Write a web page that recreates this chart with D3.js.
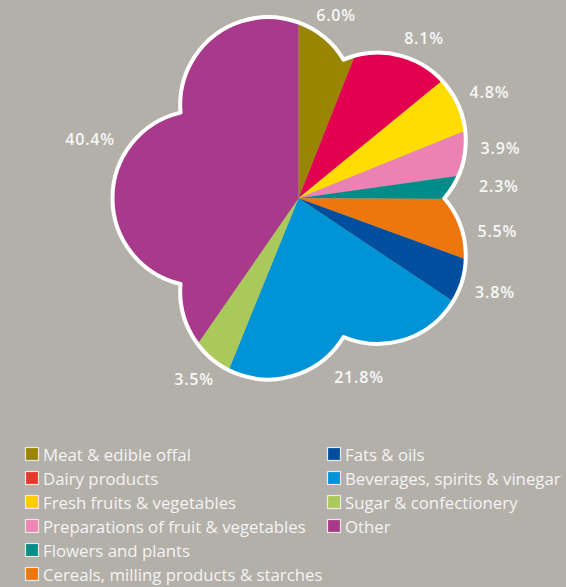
<!DOCTYPE html>
<html>
<head>
	<meta charset="UTF-8">
	<title>Food exports pie</title>
	<script src="https://d3js.org/d3.v7.min.js"></script>
	<style>
		body { margin: 0; background: #b3b0aa; }
		svg { display: block; }
	</style>
</head>
<body>
	<script>
		// Categories, in slice order (clockwise from 12 o'clock)
		var categories = ["Meat & edible offal", "Dairy products", "Fresh fruits & vegetables",
			"Preparations of fruit & vegetables", "Flowers and plants", "Cereals, milling products & starches",
			"Fats & oils", "Beverages, spirits & vinegar", "Sugar & confectionery", "Other"];

		// Share of total, percent
		var shares = [6.0, 8.1, 4.8, 3.9, 2.3, 5.5, 3.8, 21.8, 3.5, 40.4];

		var sliceColors = ["#998500", "#e2004f", "#ffdd00", "#ec82b4", "#008c88",
			"#ee770d", "#004f9e", "#0093d5", "#a9c95a", "#a8398b"];
		var legendColors = ["#998500", "#e53a2b", "#ffcc00", "#ee86b6", "#008c88",
			"#ee770d", "#004f9e", "#0093d5", "#a9c95a", "#a8398b"];

		var width = 566, height = 587;
		var cx = 298.5, cy = 198.3;

		// flower outline: 5 lobes, each an arc of a circle set out from the centre
		var lobes = 5, lobeDist = 98, lobeR = 88, firstLobe = 54; // degrees clockwise from up
		var step = 360 / lobes;
		var rad = Math.PI / 180;

		// distance from centre to the outline at angle phi (degrees, clockwise from up)
		function flowerR(phi) {
			var a = ((phi - firstLobe) % step + step) % step;
			if (a > step / 2) a -= step;
			a *= rad;
			return lobeDist * Math.cos(a) + Math.sqrt(lobeR * lobeR - Math.pow(lobeDist * Math.sin(a), 2));
		}

		// half the arc each lobe spans, seen from its own centre
		var notch = flowerR(firstLobe + step / 2);
		var along = notch * Math.cos(step / 2 * rad) - lobeDist;
		var across = notch * Math.sin(step / 2 * rad);
		var halfSpan = Math.atan2(across, along);

		var flower = d3.path();
		for (var i = 0; i < lobes; i++) {
			var beta = (firstLobe + i * step - 90) * rad;
			var lx = cx + lobeDist * Math.cos(beta), ly = cy + lobeDist * Math.sin(beta);
			flower.arc(lx, ly, lobeR, beta - halfSpan, beta + halfSpan, false);
		}
		flower.closePath();

		var svg = d3.select("body")
			.append("svg")
			.attr("width", width)
			.attr("height", height);

		svg.append("rect")
			.attr("width", width)
			.attr("height", height)
			.attr("fill", "#b3b0aa");

		svg.append("clipPath")
			.attr("id", "flowerClip")
			.append("path")
			.attr("d", flower.toString());

		var pie = d3.pie().sort(null).value(function(d) { return d; });
		var arcs = pie(shares);
		var arc = d3.arc().innerRadius(0).outerRadius(230);

		var g = svg.append("g")
			.attr("clip-path", "url(#flowerClip)");

		g.append("g")
			.attr("transform", "translate(" + cx + "," + cy + ")")
			.selectAll("path")
			.data(arcs)
			.enter()
			.append("path")
			.attr("d", arc)
			.attr("fill", function(d, i) { return sliceColors[i]; });

		// white rim
		svg.append("path")
			.attr("d", flower.toString())
			.attr("fill", "none")
			.attr("stroke", "#ffffff")
			.attr("stroke-width", 4)
			.attr("stroke-linejoin", "round");

		// percentage labels, following the outline
		var labels = svg.append("g")
			.selectAll("text")
			.data(arcs)
			.enter()
			.append("text")
			.attr("text-anchor", "middle")
			.attr("dominant-baseline", "central")
			.style("font-family", "'Open Sans', sans-serif")
			.style("font-size", "16px")
			.style("font-weight", 600)
			.style("letter-spacing", "0.8px")
			.attr("fill", "#f7f7f7")
			.text(function(d) { return d3.format(".1f")(d.value) + "%"; });

		labels.each(function(d) {
			var mid = (d.startAngle + d.endAngle) / 2;
			var r = Math.max(flowerR(mid / rad) + 17, 181);
			var w = this.getComputedTextLength();
			var x = cx + r * Math.sin(mid) + Math.sin(mid) * w / 2;
			var y = cy - r * Math.cos(mid) - Math.cos(mid) * 6;
			d3.select(this).attr("x", x).attr("y", y);
		});

		// legend in two columns
		var rowY = d3.scaleLinear().domain([0, 1]).range([454, 478]);
		var colX = [25, 327];
		var perCol = 6;

		var legend = svg.append("g")
			.selectAll("g")
			.data(categories)
			.enter()
			.append("g")
			.attr("transform", function(d, i) {
				var col = i < perCol ? 0 : 1;
				var row = i < perCol ? i : i - perCol;
				return "translate(" + colX[col] + "," + rowY(row) + ")";
			});

		legend.append("rect")
			.attr("x", 0.5)
			.attr("y", -6.5)
			.attr("width", 13)
			.attr("height", 13)
			.attr("fill", function(d, i) { return legendColors[i]; })
			.attr("stroke", "#ece9e2")
			.attr("stroke-width", 1.2);

		legend.append("text")
			.attr("x", 18)
			.attr("y", 0)
			.attr("dominant-baseline", "central")
			.style("font-family", "'Open Sans', sans-serif")
			.style("font-size", "16.8px")
			.attr("fill", "#f3f3f3")
			.text(function(d) { return d; });
	</script>
</body>
</html>
